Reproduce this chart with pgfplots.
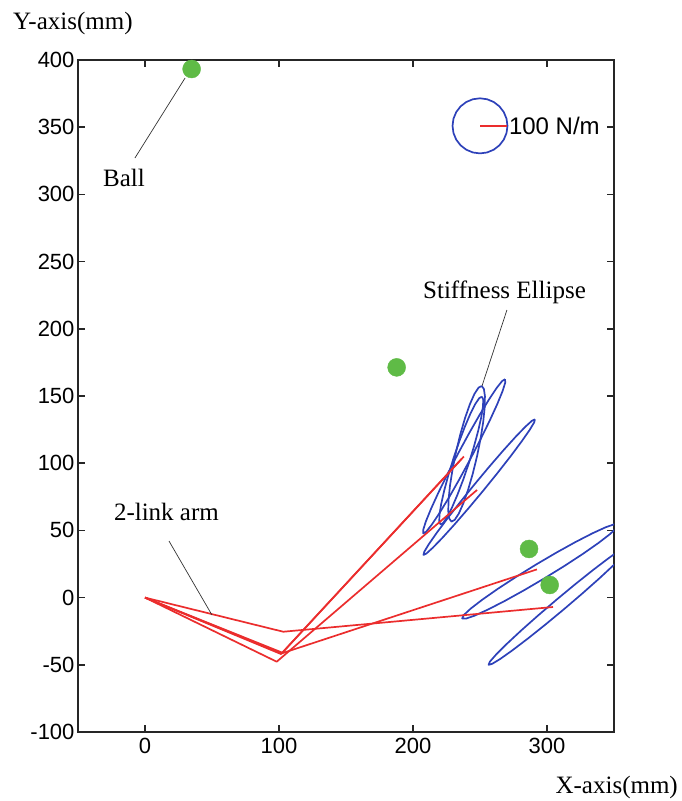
\documentclass[border=0pt]{standalone}
\usepackage{fontspec}
\setmainfont{Liberation Serif}
\newfontfamily\sansf{Liberation Sans}
\usepackage{pgfplots}
\pgfplotsset{compat=1.18}
\definecolor{armred}{RGB}{235,45,45}
\definecolor{ellblue}{RGB}{45,65,185}
\definecolor{ballgreen}{RGB}{95,187,70}
\begin{document}
\begin{tikzpicture}
\useasboundingbox (-78pt,-69pt) rectangle (603pt,732pt);
\begin{axis}[
  at={(0pt,0pt)}, anchor=south west,
  scale only axis, width=536pt, height=672pt,
  xmin=-50, xmax=350, ymin=-100, ymax=400,
  xtick={0,100,200,300}, ytick={-100,-50,0,50,100,150,200,250,300,350,400},
  tick align=inside, major tick length=7pt,
  axis line style={line width=1.5pt, black!85},
  every tick/.style={black!85, line width=1.5pt},
  tick label style={font=\sansf\fontsize{22}{24}\selectfont},
  /pgf/number format/assume math mode=true,
  xticklabel style={yshift=-3pt},
  clip=true,
]
% ---- ellipses ----
\addplot[ellblue, line width=1.7pt, line join=round] coordinates {
(353.29,54.52)(350.51,54.66)(343.93,52.40)(334.03,47.89)(321.47,41.46)(307.12,33.54)(291.91,24.64)(276.92,15.40)(263.17,6.44)(251.61,-1.63)(242.97,-8.26)(237.89,-13.00)(236.71,-15.52)(239.49,-15.66)(246.07,-13.40)(255.97,-8.89)(268.53,-2.46)(282.88,5.46)(298.09,14.36)(313.08,23.60)(326.83,32.56)(338.39,40.63)(347.03,47.26)(352.11,52.00)(353.29,54.52)};
\addplot[ellblue, line width=1.7pt, line join=round] coordinates {
(363.62,40.00)(361.05,39.36)(354.98,35.70)(345.87,29.26)(334.31,20.49)(321.10,9.99)(307.11,-1.55)(293.32,-13.33)(280.69,-24.51)(270.05,-34.38)(262.12,-42.24)(257.45,-47.58)(256.38,-50.00)(258.95,-49.36)(265.02,-45.70)(274.13,-39.26)(285.69,-30.49)(298.90,-19.99)(312.89,-8.45)(326.68,3.33)(339.31,14.51)(349.95,24.38)(357.88,32.24)(362.55,37.58)(363.62,40.00)};
\addplot[ellblue, line width=1.7pt, line join=round] coordinates {
(291.00,132.66)(288.79,131.60)(283.88,127.17)(276.63,119.68)(267.52,109.63)(257.19,97.72)(246.31,84.74)(235.65,71.58)(225.92,59.17)(217.81,48.32)(211.82,39.77)(208.41,34.12)(207.80,31.74)(210.01,32.80)(214.92,37.23)(222.17,44.72)(231.28,54.77)(241.61,66.68)(252.49,79.66)(263.15,92.82)(272.88,105.23)(280.99,116.08)(286.98,124.63)(290.39,130.28)(291.00,132.66)};
\addplot[ellblue, line width=1.7pt, line join=round] coordinates {
(268.72,162.49)(266.54,161.15)(262.42,155.98)(256.66,147.33)(249.64,135.84)(241.84,122.23)(233.79,107.45)(226.04,92.51)(219.12,78.44)(213.50,66.19)(209.56,56.58)(207.58,50.27)(207.68,47.71)(209.86,49.05)(213.98,54.22)(219.74,62.87)(226.76,74.36)(234.56,87.97)(242.61,102.75)(250.36,117.69)(257.28,131.76)(262.90,144.01)(266.84,153.62)(268.82,159.93)(268.72,162.49)};
\addplot[ellblue, line width=1.7pt, line join=round] coordinates {
(251.28,157.45)(248.88,156.18)(245.86,151.56)(242.45,143.90)(238.88,133.74)(235.38,121.75)(232.19,108.74)(229.54,95.61)(227.60,83.28)(226.51,72.56)(226.32,64.18)(227.08,58.72)(228.72,56.55)(231.12,57.82)(234.14,62.44)(237.55,70.10)(241.12,80.26)(244.62,92.25)(247.81,105.26)(250.46,118.39)(252.40,130.72)(253.49,141.44)(253.68,149.82)(252.92,155.28)(251.28,157.45)};
\addplot[ellblue, line width=1.7pt, line join=round] coordinates {
(251.45,149.55)(249.44,148.41)(246.52,144.11)(242.88,136.93)(238.79,127.38)(234.48,116.11)(230.29,103.85)(226.48,91.47)(223.33,79.82)(221.04,69.69)(219.76,61.75)(219.60,56.55)(220.55,54.45)(222.56,55.59)(225.48,59.89)(229.12,67.07)(233.21,76.62)(237.52,87.89)(241.71,100.15)(245.52,112.53)(248.67,124.18)(250.96,134.31)(252.24,142.25)(252.40,147.45)(251.45,149.55)};
% ---- scale circle ----
\addplot[ellblue, line width=1.7pt, line join=round] coordinates {
(270.5,351)(269.80,356.31)(267.75,361.25)(264.49,365.49)(260.25,368.75)(255.31,370.80)(250,371.5)(244.69,370.80)(239.75,368.75)(235.51,365.49)(232.25,361.25)(230.20,356.31)(229.5,351)(230.20,345.69)(232.25,340.75)(235.51,336.51)(239.75,333.25)(244.69,331.20)(250,330.5)(255.31,331.20)(260.25,333.25)(264.49,336.51)(267.75,340.75)(269.80,345.69)(270.5,351)};
\addplot[armred, line width=2.5pt] coordinates {(250,351)(270.5,351)};
% ---- arms ----
\addplot[armred, line width=1.7pt, line join=round] coordinates {(0,0)(103.2,-25.4)(304.5,-7)};
\addplot[armred, line width=1.7pt, line join=round] coordinates {(0,0)(102,-41.5)(292.5,21)};
\addplot[armred, line width=1.7pt, line join=round] coordinates {(0,0)(101.5,-42)(236,103)};
\addplot[armred, line width=1.7pt, line join=round] coordinates {(0,0)(102.5,-41)(238,105)};
\addplot[armred, line width=1.7pt, line join=round] coordinates {(0,0)(98.3,-47.7)(247.8,80.1)};
% ---- balls ----
\addplot[only marks, mark=*, mark size=9pt, ballgreen] coordinates {(34.8,393.3)(187.8,171.3)(286.6,36.2)(302,9.4)};
% ---- annotation leaders ----
\addplot[black!80, line width=0.7pt] coordinates {(-7.5,327.1)(29.9,386.6)};
\addplot[black!80, line width=0.7pt] coordinates {(270.1,214.0)(251.5,157.5)};
\addplot[black!80, line width=0.7pt] coordinates {(17.9,42.1)(50,-13)};
\node[font=\fontsize{25}{28}\selectfont, inner sep=0pt] at (axis cs:-15.7,312.2) {Ball};
\node[font=\fontsize{25}{28}\selectfont, inner sep=0pt] at (axis cs:268.3,227.4) {Stiffness Ellipse};
\node[font=\fontsize{25}{28}\selectfont, inner sep=0pt] at (axis cs:16,63.7) {2-link arm};
\node[font=\sansf\fontsize{24}{26}\selectfont, inner sep=0pt, anchor=west] at (axis cs:271.5,351) {100 N/m};
\end{axis}
\node[font=\fontsize{25}{28}\selectfont, inner sep=0pt, anchor=west] at (-65pt,709pt) {Y-axis(mm)};
\node[font=\fontsize{25}{28}\selectfont, inner sep=0pt, anchor=east] at (600pt,-55pt) {X-axis(mm)};
\end{tikzpicture}
\end{document}
